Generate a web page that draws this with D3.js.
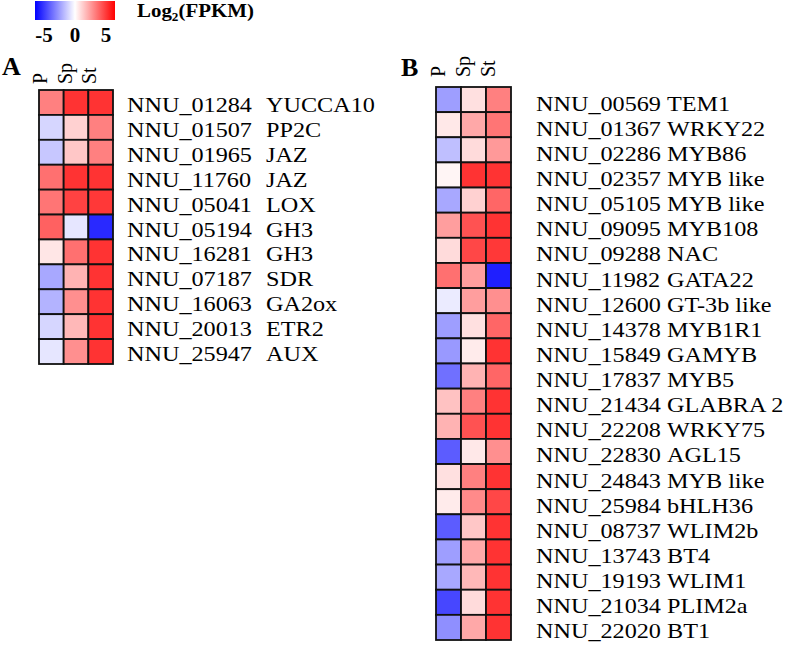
<!DOCTYPE html>
<html>
<head>
<meta charset="utf-8">
<script src="https://cdn.jsdelivr.net/npm/d3@7"></script>
<style>
  body { margin: 0; background: #fff; }
  svg { display: block; }
</style>
</head>
<body>
<div id="chart"></div>
<script>
// columns (tissues)
const samples = ['P', 'Sp', 'St']

// panel A
const idsA = ['NNU_01284', 'NNU_01507', 'NNU_01965', 'NNU_11760', 'NNU_05041', 'NNU_05194',
  'NNU_16281', 'NNU_07187', 'NNU_16063', 'NNU_20013', 'NNU_25947']
const namesA = ['YUCCA10', 'PP2C', 'JAZ', 'JAZ', 'LOX', 'GH3', 'GH3', 'SDR', 'GA2ox', 'ETR2', 'AUX']
const valuesA = [
  [2.5, 4.0, 4.0],
  [-0.8, 0.9, 2.5],
  [-1.1, 1.1, 2.5],
  [2.8, 4.0, 4.0],
  [2.7, 3.7, 3.9],
  [3.1, -0.5, -4.2],
  [0.5, 2.8, 4.0],
  [-1.7, 1.5, 4.0],
  [-1.5, 2.2, 4.0],
  [-0.8, 1.4, 4.0],
  [-0.5, 2.2, 4.0]
]

// panel B
const idsB = ['NNU_00569', 'NNU_01367', 'NNU_02286', 'NNU_02357', 'NNU_05105', 'NNU_09095',
  'NNU_09288', 'NNU_11982', 'NNU_12600', 'NNU_14378', 'NNU_15849', 'NNU_17837', 'NNU_21434',
  'NNU_22208', 'NNU_22830', 'NNU_24843', 'NNU_25984', 'NNU_08737', 'NNU_13743', 'NNU_19193',
  'NNU_21034', 'NNU_22020']
const namesB = ['TEM1', 'WRKY22', 'MYB86', 'MYB like', 'MYB like', 'MYB108', 'NAC', 'GATA22',
  'GT-3b like', 'MYB1R1', 'GAMYB', 'MYB5', 'GLABRA 2', 'WRKY75', 'AGL15', 'MYB like', 'bHLH36',
  'WLIM2b', 'BT4', 'WLIM1', 'PLIM2a', 'BT1']
const valuesB = [
  [-1.9, 0.6, 2.5],
  [0.45, 1.7, 2.7],
  [-1.25, 0.7, 2.0],
  [0.2, 4.0, 4.0],
  [-1.7, 0.9, 3.0],
  [1.9, 3.4, 4.0],
  [0.7, 3.6, 3.9],
  [2.8, 1.9, -4.4],
  [-0.4, 1.9, 2.2],
  [-1.9, 0.6, 3.0],
  [-2.0, 0.4, 4.0],
  [-2.8, 1.5, 3.0],
  [1.2, 2.5, 4.0],
  [1.5, 3.4, 4.0],
  [-3.2, 0.45, 2.2],
  [0.6, 2.5, 4.0],
  [0.4, 2.3, 3.6],
  [-3.2, 1.1, 4.0],
  [-1.9, 1.7, 4.0],
  [-1.7, 1.4, 4.0],
  [-3.6, 0.7, 4.0],
  [-2.2, 1.7, 4.0]
]

const legendTicks = [-5, 0, 5]

const width = 787
const height = 647
const serif = '"Liberation Serif", "Times New Roman", serif'

const svg = d3.select('#chart')
  .append('svg')
  .attr('width', width)
  .attr('height', height)

const color = d3.scaleLinear()
  .domain([-5, 0, 5])
  .range(['#0000ff', '#ffffff', '#ff0000'])

// legend
const defs = svg.append('defs')
const grad = defs.append('linearGradient').attr('id', 'leg')
d3.range(0, 1.01, 0.1).forEach(t => {
  grad.append('stop')
    .attr('offset', t * 100 + '%')
    .attr('stop-color', color(-5 + 10 * t))
})
svg.append('rect')
  .attr('x', 35).attr('y', 1)
  .attr('width', 80).attr('height', 19)
  .attr('fill', 'url(#leg)')

const legScale = d3.scaleLinear().domain([-5, 5]).range([44, 106])
svg.selectAll('.leg-tick')
  .data(legendTicks)
  .enter()
  .append('text')
  .attr('class', 'leg-tick')
  .attr('x', d => legScale(d))
  .attr('y', 42)
  .attr('text-anchor', 'middle')
  .attr('font-family', serif)
  .attr('font-weight', 'bold')
  .attr('font-size', 21)
  .text(d => d)

const legTitle = svg.append('text')
  .attr('transform', 'translate(137,17) scale(1.1,1)')
  .attr('font-family', serif)
  .attr('font-weight', 'bold')
  .attr('font-size', 19)
legTitle.append('tspan').text('Log')
legTitle.append('tspan').attr('font-size', 12).attr('dy', 4).text('2')
legTitle.append('tspan').attr('dy', -4).text('(FPKM)')

function drawPanel(opt) {
  const g = svg.append('g')
  const rows = opt.ids.map((d, i) => i)
  const x = d3.scaleBand().domain(samples).range([opt.x0, opt.x1])
  const y = d3.scaleBand().domain(rows).range([opt.y0, opt.y1])

  // panel letter
  g.append('text')
    .attr('x', opt.letterX).attr('y', opt.letterY)
    .attr('font-family', serif)
    .attr('font-weight', 'bold')
    .attr('font-size', 26)
    .text(opt.letter)

  // column headers (rotated)
  g.selectAll('.col-label')
    .data(samples)
    .enter()
    .append('text')
    .attr('class', 'col-label')
    .attr('transform', d => 'translate(' + (x(d) + opt.colOff) + ',' + (opt.y0 - opt.colGap) + ') rotate(-90)')
    .attr('font-family', serif)
    .attr('font-size', 20)
    .text(d => d)

  // cells
  const cells = []
  opt.values.forEach((row, i) => {
    row.forEach((v, j) => cells.push({ r: i, c: samples[j], v: v }))
  })
  g.selectAll('.cell')
    .data(cells)
    .enter()
    .append('rect')
    .attr('class', 'cell')
    .attr('x', d => x(d.c))
    .attr('y', d => y(d.r))
    .attr('width', x.bandwidth())
    .attr('height', y.bandwidth())
    .attr('fill', d => color(d.v))
    .attr('stroke', '#111')
    .attr('stroke-width', 1.8)

  // row labels
  g.selectAll('.row-id')
    .data(rows)
    .enter()
    .append('text')
    .attr('class', 'row-id')
    .attr('transform', d => 'translate(' + opt.idX + ',' + (y(d) + y.bandwidth() / 2 + opt.baseOff) + ') scale(1.1,1)')
    .attr('font-family', serif)
    .attr('font-size', 22)
    .text(d => opt.ids[d])

  g.selectAll('.row-name')
    .data(rows)
    .enter()
    .append('text')
    .attr('class', 'row-name')
    .attr('transform', d => 'translate(' + opt.nameX + ',' + (y(d) + y.bandwidth() / 2 + opt.baseOff) + ') scale(1.1,1)')
    .attr('font-family', serif)
    .attr('font-size', 22)
    .text(d => opt.names[d])
}

drawPanel({
  ids: idsA, names: namesA, values: valuesA,
  x0: 39, x1: 113, y0: 90, y1: 364,
  letter: 'A', letterX: 2, letterY: 75,
  colOff: 8, colGap: 6,
  idX: 127, nameX: 266, baseOff: 9.5
})

drawPanel({
  ids: idsB, names: namesB, values: valuesB,
  x0: 436, x1: 511, y0: 87, y1: 640,
  letter: 'B', letterX: 401, letterY: 76,
  colOff: 9, colGap: 10,
  idX: 536, nameX: 667, baseOff: 11
})
</script>
</body>
</html>
